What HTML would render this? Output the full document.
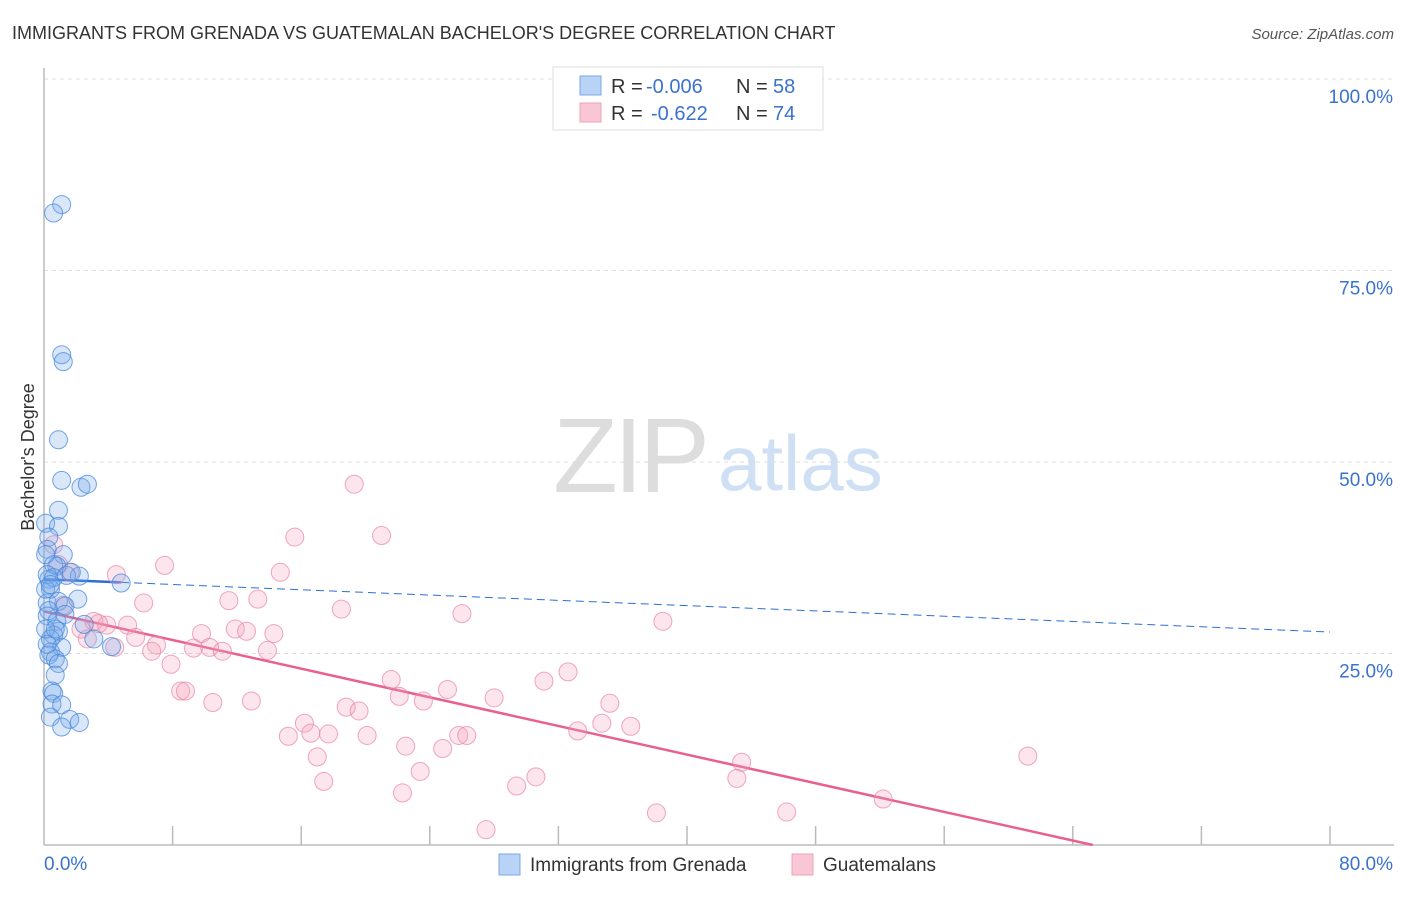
<!DOCTYPE html>
<html><head><meta charset="utf-8"><style>
body{margin:0;background:#fff;font-family:"Liberation Sans",sans-serif;}
svg text{font-family:"Liberation Sans",sans-serif;}
</style></head><body>
<svg id="chart" width="1406" height="892" xmlns="http://www.w3.org/2000/svg">
<text x="12" y="39" font-size="18" fill="#333">IMMIGRANTS FROM GRENADA VS GUATEMALAN BACHELOR'S DEGREE CORRELATION CHART</text>
<text x="1394" y="39" font-size="15" fill="#555" text-anchor="end" font-style="italic">Source: ZipAtlas.com</text>
<g>
<text x="553" y="492" font-size="106" fill="#ddd" font-family="Liberation Serif, serif" letter-spacing="-4">ZIP</text>
<text x="718" y="490" font-size="78" fill="#cfe0f4">atlas</text>
</g>
<g id="grid"></g>
<g id="axes"></g>
<g id="lines"></g>
<g id="points"></g>
<text transform="translate(34,457) rotate(-90)" font-size="18" fill="#333" text-anchor="middle">Bachelor's Degree</text>
<g>
<rect x="553" y="67" width="270" height="63" fill="#fff" stroke="#ddd"/>
<rect x="580" y="76" width="21" height="19" fill="#b8d3f5" stroke="#7aa9e6"/>
<rect x="580" y="103" width="21" height="19" fill="#f9c6d5" stroke="#eea0b7"/>
<text x="611" y="93" font-size="20" fill="#333">R =</text>
<text x="646" y="93" font-size="20" fill="#3a72d0">-0.006</text>
<text x="736" y="93" font-size="20" fill="#333">N =</text>
<text x="773" y="93" font-size="20" fill="#3a72d0">58</text>
<text x="611" y="120" font-size="20" fill="#333">R =</text>
<text x="651" y="120" font-size="20" fill="#3a72d0">-0.622</text>
<text x="736" y="120" font-size="20" fill="#333">N =</text>
<text x="773" y="120" font-size="20" fill="#3a72d0">74</text>
</g>
<g>
<rect x="499" y="854" width="21" height="21" fill="#b8d3f5" stroke="#7aa9e6"/>
<text x="530" y="871" font-size="19" fill="#333">Immigrants from Grenada</text>
<rect x="792" y="854" width="21" height="21" fill="#f9c6d5" stroke="#eea0b7"/>
<text x="823" y="871" font-size="19" fill="#333">Guatemalans</text>
</g>
</svg>
<script>
const yTicks=[25,50,75,100];
const yTickLabels=["25.0%","50.0%","75.0%","100.0%"];
const xTickCount=10;
const xEndLabels=["0.0%","80.0%"];
const blueX=[1.1,0.6,1.1,1.2,0.9,1.1,2.3,2.7,0.9,0.1,0.9,0.3,0.2,1.2,0.6,0.8,0.3,0.2,2.2,0.6,1.4,4.8,0.4,2.1,0.2,0.9,0.3,1.3,0.2,0.8,2.5,0.9,0.6,0.4,3.1,1.1,4.2,0.4,0.3,0.7,0.9,0.7,0.5,0.6,0.5,1.1,0.4,1.6,2.2,1.1,0.1,0.2,0.1,0.1,0.4,0.7,1.7,1.3];
const blueY=[83.6,82.5,64.0,63.1,52.9,47.6,46.7,47.1,43.7,42.0,41.6,40.2,38.6,37.9,36.6,36.4,34.7,35.3,35.1,34.9,35.2,34.2,33.4,32.1,31.6,31.8,30.6,31.2,29.9,29.2,28.8,27.9,27.4,26.9,26.9,25.8,25.9,25.2,24.8,24.3,23.7,22.2,20.1,19.8,18.4,18.3,16.7,16.4,16.0,15.4,37.9,26.2,33.4,28.2,34.0,28.2,35.6,30.1];
const pinkX=[19.3,15.6,21.0,7.5,14.7,4.5,1.6,0.6,0.9,6.2,13.3,11.5,18.5,26.0,1.2,3.1,3.9,5.2,2.3,38.5,5.7,9.8,11.9,12.6,14.3,7.0,6.7,10.3,9.3,11.1,13.9,4.4,7.9,21.6,32.6,31.1,8.5,8.8,25.1,22.1,28.0,10.5,12.9,23.6,35.2,18.8,19.6,16.2,36.5,34.7,33.2,15.2,16.6,17.7,20.1,25.8,26.3,22.5,24.8,17.0,43.4,61.2,23.4,30.6,43.1,17.4,29.4,22.3,52.2,38.1,46.2,27.5,3.4,2.7];
const pinkY=[47.1,40.2,40.4,36.5,35.6,35.3,35.6,39.2,36.6,31.6,32.1,31.9,30.8,30.2,31.3,29.2,28.7,28.7,28.2,29.2,27.1,27.6,28.2,27.9,27.6,26.1,25.3,25.8,25.7,25.3,25.4,25.8,23.6,21.6,22.6,21.4,20.1,20.1,20.3,19.4,19.2,18.6,18.8,18.8,18.5,18.0,17.5,15.9,15.5,15.9,14.9,14.2,14.6,14.5,14.3,14.3,14.3,12.9,12.6,11.5,10.8,11.6,9.6,8.9,8.7,8.3,7.7,6.8,6.0,4.2,4.3,2.0,28.9,26.9];
const blueTrend=[34.7,27.8];   // value at x=0 and x=80
const blueSolidEnd=4.8;
const pinkTrend=[30.5,-6.9];   // value at x=0 and x=80
const X0=44,X1=1330,Y0=845,Y100=79;
const sx=v=>X0+v/80*(X1-X0);
const sy=v=>Y0-v/100*(Y0-Y100);
const NS="http://www.w3.org/2000/svg";
function mk(parent,tag,attrs){const e=document.createElementNS(NS,tag);for(const k in attrs)e.setAttribute(k,attrs[k]);document.getElementById(parent).appendChild(e);return e;}
yTicks.forEach((t,i)=>{
 const l=mk('grid','line',{x1:X0,x2:1394,y1:sy(t),y2:sy(t),stroke:'#ddd','stroke-dasharray':'4,4'});
 
 
 const tx=mk('grid','text',{x:1393,y:sy(t)+24,'font-size':19,fill:'#3a72d0','text-anchor':'end'});
 tx.textContent=yTickLabels[i];
 
 
});
let a=mk('axes','line',{x1:X0,x2:X0,y1:68,y2:Y0,stroke:'#bbb','stroke-width':1.5});


a=mk('axes','line',{x1:X0,x2:1394,y1:Y0,y2:Y0,stroke:'#bbb','stroke-width':1.5});


for(let i=1;i<=xTickCount;i++){
 const v=i*80/xTickCount;
 const t=mk('axes','line',{x1:sx(v),x2:sx(v),y1:826,y2:Y0,stroke:'#bbb','stroke-width':1.5});
 
 
}
let xl=mk('axes','text',{x:44,y:870,'font-size':19,fill:'#3a72d0'});xl.textContent=xEndLabels[0];


xl=mk('axes','text',{x:1393,y:870,'font-size':19,fill:'#3a72d0','text-anchor':'end'});xl.textContent=xEndLabels[1];


const bAt=v=>blueTrend[0]+(blueTrend[1]-blueTrend[0])*v/80;
let ln=mk('lines','line',{x1:sx(0),y1:sy(bAt(0)),x2:sx(blueSolidEnd),y2:sy(bAt(blueSolidEnd)),stroke:'#2a6fd6','stroke-width':2.5});


ln=mk('lines','line',{x1:sx(blueSolidEnd),y1:sy(bAt(blueSolidEnd)),x2:sx(80),y2:sy(bAt(80)),stroke:'#2a6fd6','stroke-width':1,'stroke-dasharray':'8,5'});


const pSlope=(pinkTrend[1]-pinkTrend[0])/80;
const pEnd=Math.min(80,-pinkTrend[0]/pSlope);
ln=mk('lines','line',{x1:sx(0),y1:sy(pinkTrend[0]),x2:sx(pEnd),y2:sy(pinkTrend[0]+pSlope*pEnd),stroke:'#e8608e','stroke-width':2.5});


pinkX.forEach((x,i)=>{
 const c=mk('points','circle',{cx:sx(x),cy:sy(pinkY[i]),r:9,fill:'rgba(244,160,188,0.28)',stroke:'rgba(232,130,165,0.7)','stroke-width':1});
 
 
});
blueX.forEach((x,i)=>{
 const c=mk('points','circle',{cx:sx(x),cy:sy(blueY[i]),r:9,fill:'rgba(120,170,232,0.28)',stroke:'rgba(70,135,220,0.75)','stroke-width':1});
 
 
});
</script>
</body></html>
